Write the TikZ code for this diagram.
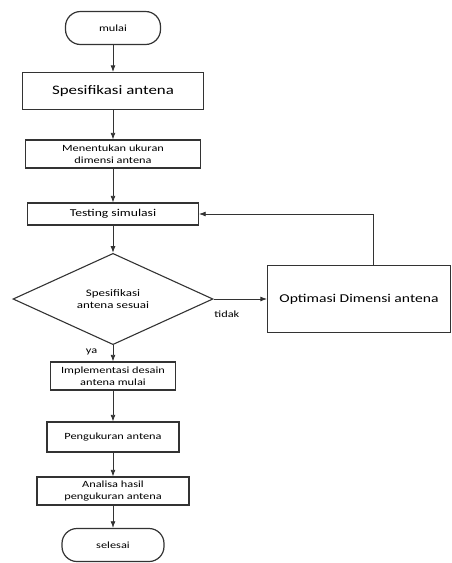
\documentclass[tikz,border=0pt]{standalone}
\usepackage{fontspec}
\setmainfont{Carlito}[FakeStretch=1.3]
\usetikzlibrary{arrows.meta,shapes.geometric}
\definecolor{flowline}{HTML}{333333}

\begin{document}
\begin{tikzpicture}[x=1pt,y=-1pt,>=Latex,font=\fontsize{9.5}{11.5}\selectfont,
 term/.style={draw=flowline,line width=1.2pt,rounded corners=15pt,minimum width=95pt,minimum height=33pt},
 proc/.style={draw=flowline,line width=1.1pt,align=center,inner sep=1pt},
 cond/.style={draw=flowline,line width=1.1pt,diamond,align=center,minimum width=200pt,minimum height=78pt,inner sep=0pt},
 flow/.style={->,line width=0.8pt,draw=flowline}]
\useasboundingbox (0,0) rectangle (451,563);
\node[term] (mulai) at (113,28) {mulai};
\node[proc,minimum width=181pt,minimum height=37pt,font=\fontsize{13}{15}\selectfont] (spek) at (113,91) {Spesifikasi antena};
\node[proc,minimum width=175pt,minimum height=28pt] (ukur) at (113,154) {Menentukan ukuran\\dimensi antena};
\node[proc,minimum width=171pt,minimum height=22pt,font=\fontsize{10.5}{12}\selectfont] (sim) at (113,214) {Testing simulasi};
\node[cond,font=\fontsize{10}{12}\selectfont] (sesuai) at (113,299) {Spesifikasi\\antena sesuai};
\node[proc,minimum width=183pt,minimum height=67pt,font=\fontsize{12}{14}\selectfont] (opt) at (359,299) {Optimasi Dimensi antena};
\node[proc,minimum width=125pt,minimum height=28pt] (impl) at (113,376) {Implementasi desain\\antena mulai};
\node[proc,minimum width=132pt,minimum height=30pt] (ukurant) at (113,437) {Pengukuran antena};
\node[proc,minimum width=152pt,minimum height=28pt] (analisa) at (113,491) {Analisa hasil\\pengukuran antena};
\node[term,minimum width=102pt] (selesai) at (113,545) {selesai};
\coordinate (balik) at (373,265.5);
\draw[flow] (mulai) -- (spek);
\draw[flow] (spek) -- (ukur);
\draw[flow] (ukur) -- (sim);
\draw[flow] (sim) -- (sesuai);
\draw[flow] (sesuai.east) -- node[below=8pt,pos=0.25] {tidak} (opt.west);
\draw[flow] (balik) |- (sim.east);
\draw[flow] (sesuai.south) -- node[left=12pt,pos=0.4] {ya} (impl.north);
\draw[flow] (impl) -- (ukurant);
\draw[flow] (ukurant) -- (analisa);
\draw[flow] (analisa) -- (selesai);
\end{tikzpicture}
\end{document}
